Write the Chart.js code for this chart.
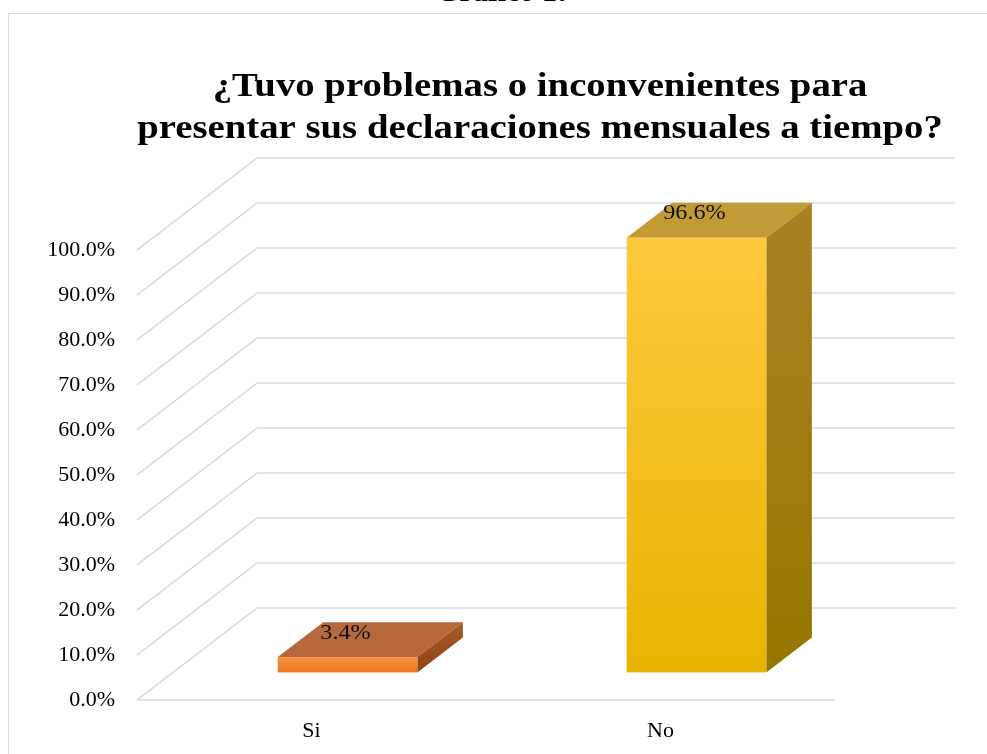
<!DOCTYPE html>
<html>
<head>
<meta charset="utf-8">
<script src="https://cdn.jsdelivr.net/npm/chart.js@4"></script>
<style>
  body { margin: 0; background: #fff; overflow: hidden; }
  #wrap { position: relative; width: 987px; height: 754px; }
  #frame { position: absolute; left: 8px; top: 13px; right: 0; bottom: -2px;
           border-left: 1.5px solid #d9dce1; border-top: 1.5px solid #d9dce1; }
  #caption { position: absolute; left: 0; width: 1008px; top: -26px; text-align: center;
             font: bold 30px 'Liberation Serif', serif; color: #000; }
  #box { position: absolute; left: 0; top: 0; width: 987px; height: 754px; }
</style>
</head>
<body>
<div id="wrap">
  <div id="caption">Gráfico 17</div>
  <div id="frame"></div>
  <div id="box"><canvas id="chart"></canvas></div>
</div>
<script>
// === Data ===
const categories = ['Si', 'No'];
const shares = [0.034, 0.966];
const titleLines = ['¿Tuvo problemas o inconvenientes para', 'presentar sus declaraciones mensuales a tiempo?'];

// colours for each bar: front top/bottom, top face, side top/bottom
const faceColors = [
  { front: ['#f79245', '#ee761f'], top: '#b5693c', side: ['#a9592a', '#8e4414'] },
  { front: ['#ffc93f', '#e8b400'], top: '#c29a36', side: ['#a88223', '#967700'] }
];

const pct = v => (v * 100).toFixed(1) + '%';

// depth of the 3D walls and of the bars
const WALL_DX = 120, WALL_DY = 92;
const BAR_OFF = 0.3, BAR_DEPTH = 0.38;

// the original text is a bit wider than Liberation Serif, so stretch it
function stretchedText(ctx, text, x, y, sx) {
  ctx.save();
  ctx.translate(x, y);
  ctx.scale(sx, 1);
  ctx.fillText(text, 0, 0);
  ctx.restore();
}

const wallsPlugin = {
  id: 'walls',
  beforeDatasetsDraw(chart) {
    const { ctx, chartArea: a, scales: { y } } = chart;
    ctx.save();
    ctx.strokeStyle = '#d9dde4';
    ctx.lineWidth = 1.6;
    y.ticks.forEach(t => {
      const py = y.getPixelForValue(t.value);
      ctx.beginPath();
      ctx.moveTo(a.left, py);
      ctx.lineTo(a.left + WALL_DX, py - WALL_DY);
      ctx.lineTo(a.right + WALL_DX, py - WALL_DY);
      ctx.stroke();
    });
    // floor front edge
    ctx.beginPath();
    ctx.moveTo(a.left, a.bottom);
    ctx.lineTo(a.right, a.bottom);
    ctx.stroke();
    ctx.restore();
  },
  afterDatasetsDraw(chart) {
    const { ctx } = chart;
    const meta = chart.getDatasetMeta(0);
    const ox = WALL_DX * BAR_OFF, oy = WALL_DY * BAR_OFF;
    const dx = WALL_DX * BAR_DEPTH, dy = WALL_DY * BAR_DEPTH;
    ctx.save();
    meta.data.forEach((bar, i) => {
      const c = faceColors[i];
      const l = bar.x - bar.width / 2 + ox, r = bar.x + bar.width / 2 + ox;
      const t = bar.y - oy, b = bar.base - oy;

      // top face
      ctx.fillStyle = c.top;
      ctx.beginPath();
      ctx.moveTo(l, t); ctx.lineTo(l + dx, t - dy); ctx.lineTo(r + dx, t - dy); ctx.lineTo(r, t);
      ctx.closePath(); ctx.fill();

      // side face
      let g = ctx.createLinearGradient(0, t - dy, 0, b);
      g.addColorStop(0, c.side[0]); g.addColorStop(1, c.side[1]);
      ctx.fillStyle = g;
      ctx.beginPath();
      ctx.moveTo(r, t); ctx.lineTo(r + dx, t - dy); ctx.lineTo(r + dx, b - dy); ctx.lineTo(r, b);
      ctx.closePath(); ctx.fill();

      // front face
      g = ctx.createLinearGradient(0, t, 0, b);
      g.addColorStop(0, c.front[0]); g.addColorStop(1, c.front[1]);
      ctx.fillStyle = g;
      ctx.fillRect(l, t, r - l, b - t);

      // value label
      ctx.fillStyle = '#111';
      ctx.font = '22px "Liberation Serif", serif';
      ctx.textAlign = 'center';
      ctx.textBaseline = 'middle';
      stretchedText(ctx, pct(shares[i]), bar.x + ox - 2, t - 24, 1.1);
    });
    ctx.restore();
  },
  afterDraw(chart) {
    const { ctx } = chart;
    ctx.save();
    ctx.fillStyle = '#000';
    ctx.font = 'bold 34px "Liberation Serif", serif';
    ctx.textAlign = 'center';
    ctx.textBaseline = 'alphabetic';
    stretchedText(ctx, titleLines[0], 540, 96, 1.14);
    stretchedText(ctx, titleLines[1], 540, 138, 1.14);
    ctx.restore();
  }
};

new Chart(document.getElementById('chart'), {
  type: 'bar',
  data: {
    labels: categories,
    datasets: [{
      data: shares,
      backgroundColor: 'rgba(0,0,0,0)',
      barPercentage: 0.4,
      categoryPercentage: 1
    }]
  },
  options: {
    responsive: true,
    maintainAspectRatio: false,
    animation: false,
    layout: { padding: { left: 0, right: 152, top: 250, bottom: 0 } },
    plugins: {
      legend: { display: false },
      tooltip: { enabled: false },
      title: { display: false }
    },
    scales: {
      x: {
        grid: { display: false },
        border: { display: false },
        ticks: { color: '#000', font: { family: '"Liberation Serif", serif', size: 22 }, padding: 10 },
        afterFit: s => { s.height = 54; }
      },
      y: {
        min: 0,
        max: 1,
        grid: { display: false, drawTicks: false },
        border: { display: false },
        ticks: {
          stepSize: 0.1,
          color: '#000',
          padding: 22,
          font: { family: '"Liberation Serif", serif', size: 22 },
          callback: v => pct(v)
        },
        afterFit: s => { s.width = 137; }
      }
    }
  },
  plugins: [wallsPlugin]
});
</script>
</body>
</html>
